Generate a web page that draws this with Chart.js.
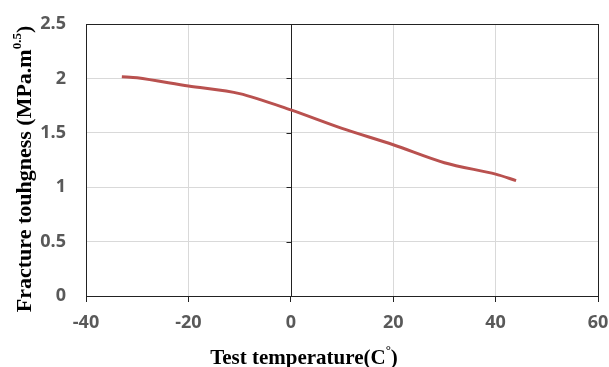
<!DOCTYPE html>
<html>
<head>
<meta charset="utf-8">
<script src="https://cdn.jsdelivr.net/npm/chart.js@4"></script>
<style>
    html, body { margin: 0; padding: 0; background: #fff; }
    #wrap { width: 609px; height: 367px; }
</style>
</head>
<body>
<div id="wrap"><canvas id="lineChart" width="609" height="367"></canvas></div>
<script>
// Values
const temps = [-33, -30, -20, -10, 0, 10, 20, 30, 40, 44];
const toughness = [2.015, 2.005, 1.93, 1.86, 1.71, 1.54, 1.39, 1.225, 1.12, 1.06];
const xTicks = [-40, -20, 0, 20, 40, 60];
const yTicks = [0, 0.5, 1, 1.5, 2, 2.5];

const tickFont = { family: "'Open Sans', sans-serif", size: 18, weight: 'bold' };
const titleFamily = "'Liberation Serif', 'Times New Roman', serif";

// Box round the plot, the black y axis at x = 0 and its small ticks
const frameLines = {
    id: 'frameLines',
    beforeDatasetsDraw(chart) {
        const { ctx, chartArea, scales } = chart;
        const x0 = Math.round(scales.x.getPixelForValue(0)) + 0.5;
        ctx.save();
        ctx.strokeStyle = '#222';
        ctx.lineWidth = 1;
        ctx.beginPath();
        ctx.moveTo(x0, chartArea.top);
        ctx.lineTo(x0, chartArea.bottom);
        yTicks.forEach(v => {
            const y = Math.round(scales.y.getPixelForValue(v)) + 0.5;
            ctx.moveTo(x0 - 5, y);
            ctx.lineTo(x0, y);
        });
        ctx.stroke();
        ctx.strokeRect(Math.round(chartArea.left) + 0.5, Math.round(chartArea.top) + 0.5,
            Math.round(chartArea.right - chartArea.left), Math.round(chartArea.bottom - chartArea.top));
        ctx.restore();
    }
};

// Axis titles with superscripts
const axisTitles = {
    id: 'axisTitles',
    afterDraw(chart) {
        const { ctx } = chart;
        const small = 'bold 13px ' + titleFamily;
        ctx.save();
        ctx.fillStyle = '#000';
        ctx.textBaseline = 'alphabetic';

        // x title
        let big = 'bold 21px ' + titleFamily;
        const xa = 'Test temperature(C', xs = '°', xb = ')';
        ctx.font = big;
        const wa = ctx.measureText(xa).width, wb = ctx.measureText(xb).width;
        ctx.font = small;
        const ws = ctx.measureText(xs).width;
        let x = 304 - (wa + ws + wb) / 2;
        const base = 364;
        ctx.font = big; ctx.fillText(xa, x, base); x += wa;
        ctx.font = small; ctx.fillText(xs, x, base - 10); x += ws;
        ctx.font = big; ctx.fillText(xb, x, base);

        // y title, rotated
        big = 'bold 22px ' + titleFamily;
        const ya = 'Fracture touhgness (MPa.m', ys = '0.5', yb = ')';
        ctx.font = big;
        const ya_w = ctx.measureText(ya).width, yb_w = ctx.measureText(yb).width;
        ctx.font = small;
        const ys_w = ctx.measureText(ys).width;
        ctx.translate(31, 169);
        ctx.rotate(-Math.PI / 2);
        let t = -(ya_w + ys_w + yb_w) / 2;
        ctx.font = big; ctx.fillText(ya, t, 0); t += ya_w;
        ctx.font = small; ctx.fillText(ys, t, -10); t += ys_w;
        ctx.font = big; ctx.fillText(yb, t, 0);
        ctx.restore();
    }
};

new Chart(document.getElementById('lineChart'), {
    type: 'line',
    data: {
        datasets: [{
            data: temps.map((t, i) => ({ x: t, y: toughness[i] })),
            borderColor: '#b9514f',
            borderWidth: 3,
            pointRadius: 0,
            tension: 0.3,
            fill: false
        }]
    },
    options: {
        responsive: false,
        animation: false,
        events: [],
        layout: { padding: { top: 24, right: 11, left: 0, bottom: 0 } },
        plugins: {
            legend: { display: false },
            tooltip: { enabled: false }
        },
        scales: {
            x: {
                type: 'linear',
                min: -40,
                max: 60,
                afterBuildTicks: scale => { scale.ticks = xTicks.map(v => ({ value: v })); },
                afterFit: scale => {
                    scale.height = 71;
                    scale.paddingLeft = 0;
                    scale.paddingRight = 0;
                },
                grid: {
                    color: ctx => ctx.tick && ctx.tick.value === 0 ? 'rgba(0,0,0,0)' : '#d9d9d9',
                    tickColor: '#222',
                    tickLength: 6
                },
                border: { display: false },
                ticks: {
                    color: '#595959',
                    font: tickFont,
                    padding: 10,
                    maxRotation: 0
                }
            },
            y: {
                min: 0,
                max: 2.5,
                afterBuildTicks: scale => { scale.ticks = yTicks.map(v => ({ value: v })); },
                afterFit: scale => {
                    scale.width = 86;
                    scale.paddingTop = 0;
                    scale.paddingBottom = 0;
                },
                grid: {
                    color: '#d9d9d9',
                    drawTicks: false
                },
                border: { display: false },
                ticks: {
                    color: '#595959',
                    font: tickFont,
                    padding: 20,
                    callback: v => String(v)
                }
            }
        }
    },
    plugins: [frameLines, axisTitles]
});
</script>
</body>
</html>
